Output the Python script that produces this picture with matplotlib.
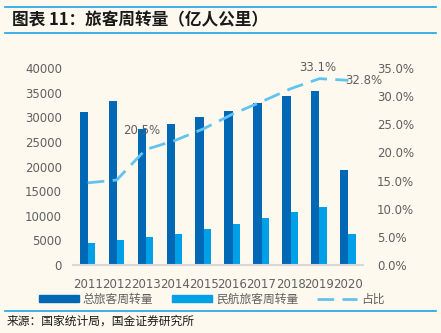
import numpy as np
import matplotlib
matplotlib.use("Agg")
import matplotlib.pyplot as plt
from matplotlib.lines import Line2D
from matplotlib.patches import Patch

plt.rcParams["font.family"] = ["Noto Sans CJK SC", "DejaVu Sans"]

years = ["2011", "2012", "2013", "2014", "2015", "2016", "2017", "2018", "2019", "2020"]
total = [30984, 33383, 27572, 28647, 30058, 31258, 32813, 34218, 35349, 19251]
aviation = [4537, 5026, 5657, 6334, 7283, 8378, 9513, 10712, 11705, 6311]
share = [14.6, 15.1, 20.5, 22.1, 24.2, 26.8, 29.0, 31.3, 33.1, 32.8]
labeled = {2: "20.5%", 8: "33.1%", 9: "32.8%"}

BG = "#FDF9EF"
DARK = "#0068B5"
LIGHT = "#00A0E9"
LINE = "#62C3F2"
GREY = "#606060"

fig = plt.figure(figsize=(4.41, 3.33), dpi=100, facecolor=BG)
ax = fig.add_axes([0.166, 0.204, 0.657, 0.592], facecolor=BG)
ax2 = ax.twinx()

x = np.arange(len(years))
ax.bar(x - 0.14, total, width=0.28, color=DARK, zorder=2)
ax.bar(x + 0.125, aviation, width=0.25, color=LIGHT, zorder=2)
ax2.plot(x, share, color=LINE, lw=2, ls=(0, (6, 3)), zorder=3)
for i, t in labeled.items():
    if i == 9:
        ax2.text(x[i] - 0.1, share[i], t, ha="left", va="center", fontsize=8.5, color=GREY,
                 family="DejaVu Sans")
    elif i == 2:
        ax2.text(x[i] - 0.15, share[i] + 2.2, t, ha="center", va="bottom", fontsize=8.5, color=GREY,
                 family="DejaVu Sans")
    else:
        ax2.text(x[i] - 0.05, share[i] + 0.9, t, ha="center", va="bottom", fontsize=8.5, color=GREY,
                 family="DejaVu Sans")

ax.set_xlim(-0.5, len(years) - 0.5)
ax.set_ylim(0, 40000)
ax.set_yticks(range(0, 40001, 5000))
ax2.set_ylim(0, 35)
ax2.set_yticks(range(0, 36, 5))
ax2.set_yticklabels([f"{v:.1f}%" for v in range(0, 36, 5)])
ax.set_xticks(x)
ax.set_xticklabels(years)

for a in (ax, ax2):
    for s in a.spines.values():
        s.set_visible(False)
    a.tick_params(length=0, labelsize=8.5, labelcolor=GREY)
ax.spines["bottom"].set_visible(True)
ax.spines["bottom"].set_color("#D9D9D9")
ax.spines["bottom"].set_linewidth(1.5)
ax.tick_params(axis="y", pad=8)
ax2.tick_params(axis="y", pad=10)
ax.tick_params(axis="x", pad=9)
for lab in ax.get_xticklabels() + ax.get_yticklabels() + ax2.get_yticklabels():
    lab.set_family("DejaVu Sans")

handles = [Patch(color=DARK), Patch(color=LIGHT),
           Line2D([], [], color=LINE, lw=2, ls=(0, (6, 3)))]
fig.legend(handles, ["总旅客周转量", "民航旅客周转量", "占比"], loc="center",
           bbox_to_anchor=(0.48, 0.102), ncol=3, frameon=False, fontsize=8.5,
           labelcolor=GREY, handlelength=3.4, handleheight=0.5, columnspacing=1.6,
           handletextpad=0.3)

# header and footer
fig.add_artist(Line2D([0.012, 0.988], [0.979, 0.979], color="#1AA3E8", lw=1.2))
fig.add_artist(Line2D([0.012, 0.988], [0.9, 0.9], color="#1AA3E8", lw=1.2))
fig.text(0.027, 0.94, "图表 11：旅客周转量（亿人公里）", fontsize=12, fontweight="bold",
         style="italic", va="center", color="#1a1a1a")
fig.add_artist(Line2D([0.012, 0.988], [0.066, 0.066], color="#1AA3E8", lw=1.2))
fig.text(0.015, 0.035, "来源：国家统计局，国金证券研究所", fontsize=8.5, va="center", color="#1a1a1a")

fig.savefig("out.png", dpi=100, facecolor=BG)
